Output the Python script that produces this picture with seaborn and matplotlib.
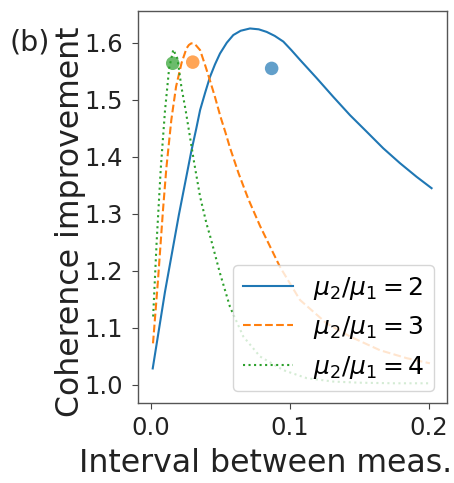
import matplotlib
matplotlib.use("Agg")
import matplotlib.pyplot as plt
import seaborn as sns

# ---- data ----
blue_x = [0.0012, 0.010, 0.020, 0.029, 0.0325, 0.0353, 0.0390, 0.0424, 0.0460,
          0.0496, 0.0545, 0.0592, 0.0645, 0.0712, 0.0775, 0.0832, 0.0890, 0.0952,
          0.1010, 0.1072, 0.1132, 0.1192, 0.1312, 0.1432, 0.1552, 0.1671, 0.1791,
          0.1911, 0.2019]
blue_y = [1.029, 1.163, 1.298, 1.410, 1.449, 1.482, 1.513, 1.540, 1.562,
          1.581, 1.600, 1.6135, 1.621, 1.625, 1.6235, 1.619, 1.612, 1.602,
          1.587, 1.570, 1.554, 1.538, 1.505, 1.473, 1.444, 1.415, 1.389,
          1.365, 1.345]

orange_x = [0.0014, 0.005, 0.0086, 0.011, 0.0146, 0.018, 0.022, 0.0255, 0.0272,
            0.029, 0.031, 0.0325, 0.0353, 0.039, 0.042, 0.046, 0.050, 0.0535,
            0.0568, 0.063, 0.070, 0.0784, 0.0928, 0.1072, 0.1264, 0.1432, 0.1647,
            0.184, 0.2007]
orange_y = [1.073, 1.184, 1.307, 1.380, 1.465, 1.523, 1.565, 1.590, 1.596,
            1.599, 1.598, 1.595, 1.587, 1.560, 1.537, 1.505, 1.470, 1.443,
            1.416, 1.371, 1.326, 1.279, 1.207, 1.149, 1.108, 1.085, 1.061,
            1.047, 1.038]

green_x = [0.0015, 0.004, 0.007, 0.010, 0.013, 0.016, 0.019, 0.0218, 0.025,
           0.028, 0.031, 0.0353, 0.040, 0.0424, 0.0496, 0.0568, 0.0664, 0.0784,
           0.0952, 0.112, 0.1312, 0.150, 0.175, 0.2007]
green_y = [1.120, 1.250, 1.380, 1.480, 1.555, 1.588, 1.572, 1.523, 1.480,
           1.435, 1.390, 1.330, 1.282, 1.262, 1.196, 1.137, 1.085, 1.050,
           1.026, 1.012, 1.006, 1.004, 1.003, 1.003]

marker_x = [0.0868, 0.0300, 0.0156]
marker_y = [1.555, 1.566, 1.564]

labels = [r"$\mu_2/\mu_1 = 2$", r"$\mu_2/\mu_1 = 3$", r"$\mu_2/\mu_1 = 4$"]
colors = sns.color_palette("tab10", 3)

fig = plt.figure(figsize=(4.54, 4.83), dpi=100)
ax = fig.add_axes([0.30396, 0.1656, 0.6806, 0.8116])

series = [(blue_x, blue_y, "-"), (orange_x, orange_y, "--"), (green_x, green_y, ":")]
for (xs, ys, ls), lab, col in zip(series, labels, colors):
    sns.lineplot(x=xs, y=ys, ax=ax, color=col, linestyle=ls, linewidth=1.5,
                 label=lab, sort=False, estimator=None)

for mx, my, col in zip(marker_x, marker_y, colors):
    ax.scatter([mx], [my], s=95, color=col, alpha=0.7, edgecolors="none", zorder=3)

ax.set_xlim(-0.0094, 0.213)
ax.set_ylim(0.9684, 1.6556)
ax.set_xticks([0.0, 0.1, 0.2])
ax.set_yticks([1.0, 1.1, 1.2, 1.3, 1.4, 1.5, 1.6])
ax.tick_params(axis="both", labelsize=17.5, length=4, color="#444444", labelcolor="#222222")
ax.tick_params(axis="x", pad=5.5)
ax.tick_params(axis="y", pad=7)
for sp in ax.spines.values():
    sp.set_color("#555555")
    sp.set_linewidth(1.0)

ax.set_xlabel("Interval between meas.", fontsize=22.7, color="#222222")
ax.set_ylabel("Coherence improvement", fontsize=22.7, color="#222222")
ax.xaxis.set_label_coords(0.414, -0.115)
ax.yaxis.set_label_coords(-0.167, 0.463)

leg = ax.legend(loc="lower right", fontsize=18)

fig.text(10 / 454, 1 - 43 / 483, "(b)", fontsize=20.5, ha="left", va="center", color="#222222")

fig.savefig("out.png", dpi=100)
